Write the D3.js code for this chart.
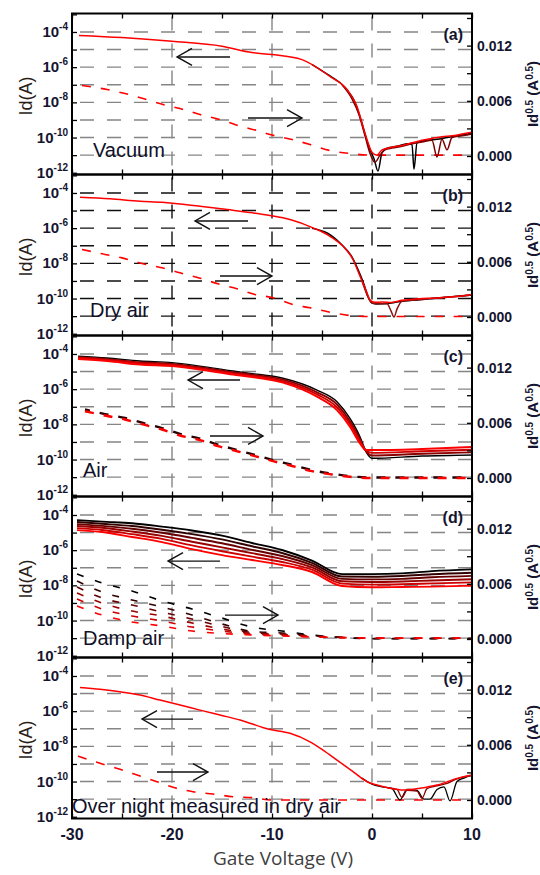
<!DOCTYPE html>
<html>
<head>
<meta charset="utf-8">
<title>Transfer curves in different atmospheres</title>
<script src="https://d3js.org/d3.v7.min.js"></script>
<style>
  body { margin: 0; background: #fff; }
  svg text { font-family: "Liberation Sans", Arial, sans-serif; }
</style>
</head>
<body>
<div id="chart"></div>
<script>
// ---- data (solid = log10 Id in A, left axis; dashed = Id^0.5 in A^0.5, right axis)
var panelLabels = ["(a)", "(b)", "(c)", "(d)", "(e)"];
var conditions = ["Vacuum", "Dry air", "Air", "Damp air", "Over night measured in dry air"];
var vgTicks = [-30, -20, -10, 0, 10];
var logLabelExp = [-12, -10, -8, -6, -4];
var sqrtTicks = [0, 0.006, 0.012];

// (a) vacuum
var aSolidVg = [-29.3, -25, -20, -15, -12, -10, -7, -4.2, -2.5, -1.5, -0.9, -0.4, 0, 0.5, 1, 2, 3, 4, 5, 6, 7, 8, 9, 10];
var aSolidRed = [-4.20, -4.32, -4.53, -4.81, -5.17, -5.28, -5.57, -6.53, -7.27, -8.24, -9.37, -10.28, -10.85, -11.0, -10.7, -10.55, -10.45, -10.3, -10.15, -10.05, -9.95, -9.9, -9.8, -9.7];
var aBlackVg = [-6, -4.2, -2.7, -1.7, -1.1, -0.6, -0.2, 0.2, 0.6, 1.0, 1.5, 2.5, 3.5, 4.0, 4.2, 4.5, 5.5, 6.5, 7.5, 8.5, 10];
var aBlack = [-5.85, -6.5, -7.15, -8.0, -9.0, -10.0, -10.7, -11.2, -11.9, -10.85, -10.6, -10.5, -10.35, -10.4, -11.8, -10.3, -10.15, -10.1, -10.0, -9.9, -9.75];
var aDarkVg = [-3, -2, -1.3, -0.7, -0.2, 0.3, 0.8, 1.3, 2, 3, 4, 5, 6, 6.5, 7, 7.5, 8, 9, 10];
var aDark = [-7.0, -7.8, -8.7, -9.9, -10.9, -11.4, -11.0, -10.7, -10.6, -10.5, -10.35, -10.25, -10.15, -11.1, -10.1, -10.7, -10.0, -9.9, -9.8];
var aDashVg = [-29, -26.5, -24.7, -22.9, -20.9, -19.2, -17.2, -15.2, -13.4, -11.5, -10.2, -8, -6.2, -4.2, -2.2, -0.2, 10];
var aDashRed = [0.00766, 0.00723, 0.00679, 0.00625, 0.00560, 0.00516, 0.00451, 0.00397, 0.00332, 0.00277, 0.00234, 0.00179, 0.00125, 0.00060, 0.00027, 0.00010, 0.00010];

// (b) dry air
var bSolidVg = [-29.2, -26.2, -23.2, -21, -19.2, -17.2, -14.5, -11.9, -10.2, -8.2, -5.9, -4.2, -2.9, -1.9, -1.2, -0.5, -0.2, 0.3, 1, 2, 3, 4, 5, 6, 7, 8, 9, 10];
var bSolidRed = [-4.24, -4.33, -4.47, -4.53, -4.62, -4.75, -4.94, -5.13, -5.28, -5.51, -5.98, -6.46, -7.03, -7.78, -8.73, -9.67, -10.09, -10.21, -10.2, -10.22, -10.1, -10.05, -10.0, -9.98, -9.95, -9.9, -9.85, -9.77];
var bBlackVg = [-6, -4.4, -3.1, -2.1, -1.4, -0.8, -0.4, 0, 0.5, 1.5, 2.5, 4, 6, 8, 10];
var bBlack = [-6.0, -6.3, -6.9, -7.55, -8.35, -9.2, -9.9, -10.25, -10.3, -10.28, -10.2, -10.1, -10.0, -9.9, -9.8];
var bDarkVg = [-1, -0.4, 0, 0.8, 1.5, 1.9, 2.2, 2.5, 3, 4, 6, 8, 10];
var bDark = [-9.0, -9.9, -10.25, -10.3, -10.3, -10.7, -11.05, -10.6, -10.15, -10.1, -10.0, -9.9, -9.8];
var bDashVg = [-29, -27, -25, -23, -21, -19.2, -17.2, -15.4, -13.5, -11.7, -9.9, -7.9, -6.2, -4.2, -2.2, -0.2, 10];
var bDashRed = [0.00734, 0.00687, 0.00643, 0.00582, 0.00535, 0.00480, 0.00422, 0.00361, 0.00307, 0.00245, 0.00209, 0.00136, 0.00100, 0.00052, 0.00016, 0.00005, 0.00005];

// (c) air
var cSolidVg = [-29.4, -26.5, -23.2, -20, -17.2, -13.9, -12.2, -8.9, -5.5, -3.5, -2.2, -1.2, -0.6, 0, 5, 10];
var cSolid0 = [-4.12, -4.23, -4.40, -4.49, -4.69, -4.97, -5.10, -5.38, -6.05, -6.71, -7.66, -8.70, -9.55, -9.93, -9.80, -9.74];
var cSolid1 = [-4.18, -4.29, -4.47, -4.56, -4.75, -5.04, -5.16, -5.46, -6.18, -6.87, -7.82, -8.83, -9.52, -9.77, -9.67, -9.59];
var cSolid2 = [-4.23, -4.34, -4.53, -4.62, -4.82, -5.10, -5.23, -5.55, -6.30, -7.03, -7.97, -8.95, -9.49, -9.62, -9.53, -9.44];
var cSolid3 = [-4.29, -4.40, -4.60, -4.69, -4.88, -5.17, -5.29, -5.63, -6.43, -7.19, -8.13, -9.08, -9.46, -9.46, -9.40, -9.29];
var cDashVg = [-28.7, -26.7, -24.7, -22.9, -21, -19.2, -17.2, -15.4, -13.5, -11.7, -9.9, -7.9, -6.0, -4.0, -2.2, -0.2, 10];
var cDashBlack = [0.00745, 0.00695, 0.00652, 0.00598, 0.00543, 0.00480, 0.00428, 0.00362, 0.00305, 0.00250, 0.00195, 0.00140, 0.00085, 0.00047, 0.00020, 0.00005, 0.00005];
var cDashRed = [0.00726, 0.00679, 0.00636, 0.00582, 0.00527, 0.00462, 0.00411, 0.00346, 0.00291, 0.00237, 0.00183, 0.00128, 0.00074, 0.00038, 0.00013, 0, 0];

// (d) damp air
var dSolidVg = [-29.5, -27, -24, -21, -18, -15, -12, -9, -6, -3, 0, 3, 6, 10];
var dSolid0 = [-4.29, -4.38, -4.47, -4.66, -4.88, -5.17, -5.59, -5.99, -6.59, -7.36, -7.36, -7.32, -7.19, -7.09];
var dSolid1 = [-4.40, -4.50, -4.63, -4.84, -5.09, -5.39, -5.78, -6.16, -6.72, -7.50, -7.51, -7.47, -7.37, -7.28];
var dSolid2 = [-4.52, -4.62, -4.78, -5.01, -5.30, -5.61, -5.98, -6.33, -6.85, -7.63, -7.66, -7.63, -7.54, -7.46];
var dSolid3 = [-4.63, -4.73, -4.94, -5.19, -5.52, -5.84, -6.17, -6.50, -6.98, -7.77, -7.81, -7.78, -7.72, -7.65];
var dSolid4 = [-4.75, -4.85, -5.09, -5.36, -5.73, -6.06, -6.37, -6.67, -7.11, -7.90, -7.96, -7.94, -7.89, -7.83];
var dSolid5 = [-4.86, -4.97, -5.25, -5.54, -5.94, -6.28, -6.56, -6.84, -7.24, -8.04, -8.11, -8.09, -8.07, -8.02];
var dDashVg = [-29.5, -27, -24, -21, -18, -15, -12, -9, -6, -3, 0, 10];
var dDash0 = [0.00707, 0.00609, 0.00522, 0.00413, 0.00326, 0.00228, 0.00130, 0.00087, 0.00043, 0.00016, 0.00003, 0.00005];
var dDash1 = [0.00630, 0.00511, 0.00424, 0.00348, 0.00261, 0.00163, 0.00082, 0.00065, 0.00038, 0.00018, 0.00005, 0.00005];
var dDash2 = [0.00565, 0.00446, 0.00370, 0.00293, 0.00217, 0.00136, 0.00071, 0.00054, 0.00033, 0.00017, 0.00006, 0.00006];
var dDash3 = [0.00500, 0.00391, 0.00304, 0.00250, 0.00174, 0.00109, 0.00060, 0.00049, 0.00030, 0.00016, 0.00008, 0.00008];
var dDash4 = [0.00435, 0.00326, 0.00250, 0.00196, 0.00130, 0.00087, 0.00049, 0.00038, 0.00025, 0.00015, 0.00010, 0.00010];
var dDash5 = [0.00359, 0.00261, 0.00185, 0.00141, 0.00087, 0.00060, 0.00043, 0.00033, 0.00022, 0.00016, 0.00010, 0.00010];

// (e) over night, dry air
var eSolidVg = [-29.2, -27.2, -25.2, -23.2, -21.2, -19.2, -17.2, -15.2, -13.2, -10.3, -8.2, -6.2, -4.9, -3.5, -1.9, -0.5, 0.5, 1.8, 3.1, 4.8, 6.5, 8.5, 10];
var eSolidRed = [-4.65, -4.76, -4.90, -5.08, -5.37, -5.65, -5.94, -6.22, -6.50, -7.03, -7.26, -7.74, -8.21, -8.78, -9.44, -10.01, -10.20, -10.38, -10.48, -10.38, -10.20, -9.82, -9.63];
var eBlackVg = [-1, 0, 1, 2, 2.8, 3.5, 4.5, 5.2, 5.8, 6.5, 7.2, 7.8, 8.5, 9.2, 10];
var eBlack = [-9.8, -10.15, -10.3, -10.4, -11.05, -10.45, -10.5, -11.0, -11.0, -10.45, -10.3, -11.1, -10.0, -9.8, -9.65];
var eDarkVg = [1.5, 2.5, 3, 3.5, 4.5, 5, 5.5, 6.5, 7.5, 8.5, 10];
var eDark = [-10.35, -10.45, -10.9, -10.5, -10.55, -10.95, -10.4, -10.25, -10.1, -9.85, -9.65];
var eDashVg = [-29.4, -27.2, -25.2, -23.2, -21.5, -19.9, -17.9, -15.9, -13.9, -11.9, -10, 10];
var eDashRed = [0.00478, 0.00399, 0.00334, 0.00261, 0.00199, 0.00138, 0.00090, 0.00065, 0.00036, 0.00025, 0, 0];

// arrows: [from Vg, to Vg, log10 Id level]
var arrowLeft = [[-14.2, -19.5, -5.42], [-12.4, -17.7, -5.59], [-13.2, -18.4, -5.48], [-15.2, -20.4, -6.62], [-17.9, -23.0, -6.45]];
var arrowRight = [[-12.4, -7.0, -8.89], [-15.2, -10.0, -8.72], [-16.2, -10.9, -8.66], [-14.7, -9.4, -9.69], [-21.5, -16.4, -9.46]];

// ---- layout
var W = 540, H = 875, left = 72, right = 472, top0 = 13.5, ph = 161;
var condX = [93, 90, 83, 83, 72];
var condDy = [17.5, 19, 20, 12.5, 5.5];
var gridColor = ["#858585", "#111", "#858585", "#858585", "#858585"];

function pairs(xs, ys) { return xs.map(function(v, i) { return [v, ys[i]]; }); }

var panels = [
  { solid: [[aBlackVg, aBlack, "#000", 1.5], [aDarkVg, aDark, "#7a0000", 1.5], [aSolidVg, aSolidRed, "#ff0000", 1.5]],
    dash: [[aDashVg, aDashRed, "#ff0000", 0]] },
  { solid: [[bBlackVg, bBlack, "#000", 1.6], [bDarkVg, bDark, "#8b1010", 1.5], [bSolidVg, bSolidRed, "#ff0000", 1.5]],
    dash: [[bDashVg, bDashRed, "#ff0000", 0]] },
  { solid: [[cSolidVg, cSolid0, "#000", 1.4], [cSolidVg, cSolid1, "#8a0000", 1.9], [cSolidVg, cSolid2, "#cc0000", 1.9], [cSolidVg, cSolid3, "#ff0000", 2]],
    dash: [[cDashVg, cDashBlack, "#2a0000", 4], [cDashVg, cDashRed, "#ff0000", 0]] },
  { solid: [[dSolidVg, dSolid0, "#000", 1.9], [dSolidVg, dSolid1, "#330000", 1.9], [dSolidVg, dSolid2, "#660000", 1.9], [dSolidVg, dSolid3, "#990000", 1.9], [dSolidVg, dSolid4, "#cc0000", 1.9], [dSolidVg, dSolid5, "#ff0000", 1.9]],
    dash: [[dDashVg, dDash0, "#000", 0], [dDashVg, dDash1, "#330000", 0], [dDashVg, dDash2, "#660000", 0], [dDashVg, dDash3, "#990000", 0], [dDashVg, dDash4, "#cc0000", 0], [dDashVg, dDash5, "#ff0000", 0]] },
  { solid: [[eBlackVg, eBlack, "#000", 1.3], [eDarkVg, eDark, "#8b0000", 1.3], [eSolidVg, eSolidRed, "#ff0000", 1.5]],
    dash: [[eDashVg, eDashRed, "#ff0000", 0]] }
];

var svg = d3.select("#chart").append("svg").attr("width", W).attr("height", H);
svg.append("rect").attr("width", W).attr("height", H).attr("fill", "#fff");

var x = d3.scaleLinear().domain([-30, 10]).range([left, right]);

panels.forEach(function(p, i) {
  var top = top0 + ph * i, bottom = top + ph;
  var yL = d3.scaleLog().domain([Math.pow(10, -12.1), Math.pow(10, -2.95)]).range([bottom, top]);
  var yR = d3.scaleLinear().domain([-0.00201, 0.01549]).range([bottom, top]);
  var g = svg.append("g");

  g.append("clipPath").attr("id", "clip" + i).append("rect")
    .attr("x", left).attr("y", top).attr("width", right - left).attr("height", ph);

  // grid
  var grid = g.append("g").attr("stroke", gridColor[i]).attr("stroke-width", 1.4)
    .attr("stroke-dasharray", "14,13").attr("fill", "none");
  d3.range(-11, -3).forEach(function(e) {
    var yy = yL(Math.pow(10, e));
    grid.append("line").attr("x1", left + 8).attr("x2", right).attr("y1", yy).attr("y2", yy);
  });
  [-20, -10, 0].forEach(function(v) {
    grid.append("line").attr("x1", x(v)).attr("x2", x(v)).attr("y1", top + 3).attr("y2", bottom);
  });

  // curves
  var plot = g.append("g").attr("clip-path", "url(#clip" + i + ")");
  var lineL = d3.line().curve(d3.curveMonotoneX)
    .x(function(d) { return x(d[0]); }).y(function(d) { return yL(Math.pow(10, d[1])); });
  var lineR = d3.line().curve(d3.curveMonotoneX)
    .x(function(d) { return x(d[0]); }).y(function(d) { return yR(d[1]); });
  p.dash.forEach(function(c) {
    plot.append("path").attr("d", lineR(pairs(c[0], c[1])))
      .attr("fill", "none").attr("stroke", c[2]).attr("stroke-width", i == 2 ? 2.4 : 1.6)
      .attr("stroke-dasharray", i == 3 ? "7,12" : "9,10").attr("stroke-dashoffset", c[3]);
  });
  p.solid.forEach(function(c) {
    plot.append("path").attr("d", lineL(pairs(c[0], c[1])))
      .attr("fill", "none").attr("stroke", c[2]).attr("stroke-width", c[3])
      .attr("stroke-linejoin", "round");
  });

  // arrows
  [arrowLeft[i], arrowRight[i]].forEach(function(a) {
    var x1 = x(a[0]), x2 = x(a[1]), yy = yL(Math.pow(10, a[2])), dir = x2 > x1 ? 1 : -1;
    g.append("line").attr("x1", x1).attr("x2", x2).attr("y1", yy).attr("y2", yy)
      .attr("stroke", "#111").attr("stroke-width", 1.4);
    g.append("path").attr("d", "M" + (x2 - dir * 15) + "," + (yy - 8.5) + "L" + x2 + "," + yy + "L" + (x2 - dir * 15) + "," + (yy + 8.5))
      .attr("fill", "none").attr("stroke", "#111").attr("stroke-width", 1.4);
  });

  // axes (inward ticks)
  var decades = d3.range(-12, -2).map(function(e) { return Math.pow(10, e); });
  g.append("g").attr("transform", "translate(" + left + ",0)")
    .call(d3.axisRight(yL).tickValues(decades).tickSize(5).tickFormat(""))
    .call(function(s) { s.select(".domain").remove(); s.selectAll("line").attr("stroke-width", 1.3); });
  g.append("g").attr("transform", "translate(" + right + ",0)")
    .call(d3.axisLeft(yR).tickValues([0, 0.003, 0.006, 0.009, 0.012, 0.015]).tickSize(5).tickFormat(""))
    .call(function(s) { s.select(".domain").remove(); s.selectAll("line").attr("stroke-width", 1.3); });
  g.append("g").attr("transform", "translate(0," + bottom + ")")
    .call(d3.axisTop(x).tickValues(d3.range(-30, 11, 5)).tickSize(5).tickFormat(""))
    .call(function(s) { s.select(".domain").remove(); s.selectAll("line").attr("stroke-width", 1.3); });
  g.append("g").attr("transform", "translate(0," + top + ")")
    .call(d3.axisBottom(x).tickValues(d3.range(-30, 11, 5)).tickSize(5).tickFormat(""))
    .call(function(s) { s.select(".domain").remove(); s.selectAll("line").attr("stroke-width", 1.3); });

  // frame
  g.append("rect").attr("x", left).attr("y", top).attr("width", right - left).attr("height", ph)
    .attr("fill", "none").attr("stroke", "#000").attr("stroke-width", 2);

  // left tick labels
  logLabelExp.forEach(function(e) {
    var t = g.append("text").attr("x", 68).attr("y", yL(Math.pow(10, e)) + 5)
      .attr("text-anchor", "end").attr("font-weight", "bold").attr("font-size", 15).attr("fill", "#151530");
    t.append("tspan").text("10");
    t.append("tspan").attr("dy", -7).attr("font-size", 10).text("-" + (-e));
  });
  // right tick labels
  sqrtTicks.forEach(function(v) {
    g.append("text").attr("x", 477).attr("y", yR(v) + 5)
      .attr("font-weight", "bold").attr("font-size", 14).attr("fill", "#151530").text(v.toFixed(3));
  });

  // axis titles
  var cy = top + ph / 2 + 2;
  g.append("text").attr("transform", "translate(32," + cy + ") rotate(-90)")
    .attr("text-anchor", "middle").attr("font-size", 18).attr("fill", "#2a1e18").text("Id(A)");
  var rl = g.append("text").attr("transform", "translate(538," + (cy - 2) + ") rotate(-90)")
    .attr("text-anchor", "middle").attr("font-size", 15).attr("font-weight", "bold").attr("fill", "#151530");
  rl.append("tspan").text("Id");
  rl.append("tspan").attr("dy", -5).attr("font-size", 10).text("0.5");
  rl.append("tspan").attr("dy", 5).text(" (A");
  rl.append("tspan").attr("dy", -5).attr("font-size", 10).text("0.5");
  rl.append("tspan").attr("dy", 5).text(")");

  // panel tag and condition
  g.append("text").attr("x", 463).attr("y", top + 26).attr("text-anchor", "end")
    .attr("font-weight", "bold").attr("font-size", 16).attr("fill", "#151530").text(panelLabels[i]);
  g.append("text").attr("x", condX[i]).attr("y", bottom - condDy[i])
    .attr("font-size", 20).attr("fill", "#101028").text(conditions[i]);
});

// x tick labels and title
var lastBottom = top0 + ph * 5;
vgTicks.forEach(function(v) {
  svg.append("text").attr("x", x(v)).attr("y", lastBottom + 21).attr("text-anchor", "middle")
    .attr("font-weight", "bold").attr("font-size", 16).attr("fill", "#151530").text(v);
});
svg.append("text").attr("x", 283).attr("y", 865).attr("text-anchor", "middle")
  .style("font-family", "'Open Sans', sans-serif").attr("font-size", 19).attr("fill", "#404040")
  .text("Gate Voltage (V)");
</script>
</body>
</html>
